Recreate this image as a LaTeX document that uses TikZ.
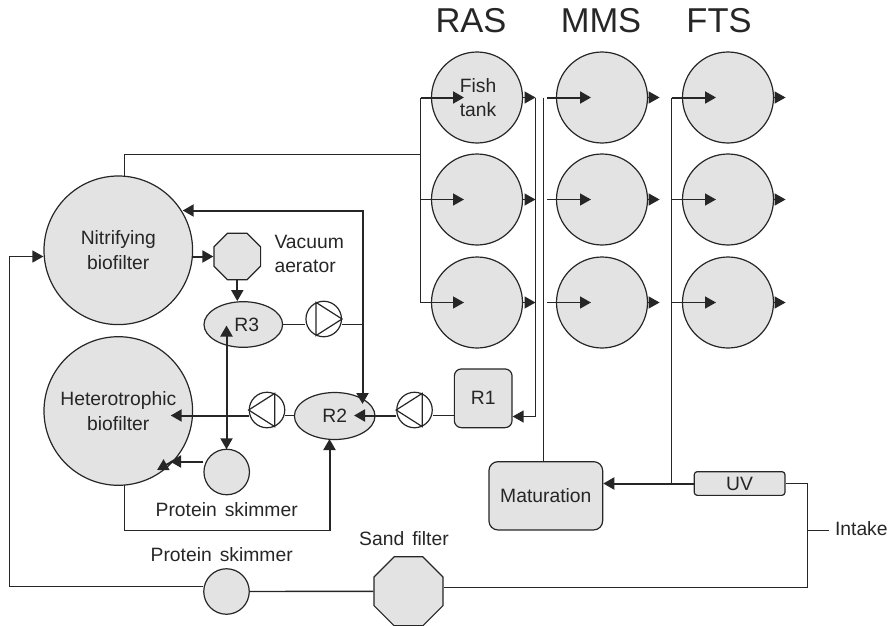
\documentclass[tikz,border=0pt]{standalone}
\usepackage{fontspec}
\setmainfont[WordSpace=1.5]{Liberation Sans}
\usetikzlibrary{arrows.meta, shapes.geometric}

\begin{document}
\begin{tikzpicture}[
  x=1pt, y=-1pt,
  >={Triangle[length=11pt, width=12pt]},
  lbl/.style={font=\fontsize{19.3}{24.5}\selectfont, text=black!85, align=left},
  heading/.style={font=\fontsize{34.5}{36}\selectfont, text=black!85},
  unit/.style={draw=black!85, fill=black!11, line width=1.2pt, inner sep=0pt},
  tank/.style={unit, circle, minimum size=91pt},
  filter/.style={unit, circle, minimum size=148.6pt, lbl, align=center},
  skim/.style={unit, circle, minimum size=45.5pt},
  pump/.style={draw=black!85, fill=white, line width=1.2pt, circle, inner sep=0pt, minimum size=35.5pt},
  mix/.style={unit, ellipse, lbl},
  octa/.style={unit, regular polygon, regular polygon sides=8},
  box/.style={unit, rectangle, rounded corners=#1, lbl},
  box/.default={7pt},
  pipe/.style={draw=black!85, line width=1.4pt},
  flow/.style={pipe, line width=2pt, ->},
]
\useasboundingbox (0,0) rectangle (891,626);

% === Headings ===
\node[heading] (ras) at (471, 21) {RAS};
\node[heading] (mms) at (601, 21) {MMS};
\node[heading] (fts) at (719, 21) {FTS};

% === Biofilters ===
\node[filter] (nitri) at (118.3, 250.3) {Nitrifying\\biofilter};
\node[filter] (hetero) at (118.3, 411) {Heterotrophic\\biofilter};

% === Tanks ===
\node[tank] (ras1) at (477, 97.5) {};
\node[tank] (ras2) at (477, 199.5) {};
\node[tank] (ras3) at (477, 302.5) {};
\node[tank] (mms1) at (602, 97.5) {};
\node[tank] (mms2) at (602, 199.5) {};
\node[tank] (mms3) at (602, 302.5) {};
\node[tank] (fts1) at (728, 97.5) {};
\node[tank] (fts2) at (728, 199.5) {};
\node[tank] (fts3) at (728, 302.5) {};
\node[lbl, align=center] (fish) at (478, 97.5) {Fish\\tank};

% === Treatment units ===
\node[octa, minimum size=50.5pt] (aerator) at (237.3, 256.5) {};
\node[mix, minimum width=78.6pt, minimum height=45.6pt] (r3) at (243.3, 324.5) {\hspace*{7pt}R3};
\node[mix, minimum width=80.6pt, minimum height=47pt] (r2) at (334.7, 416) {R2};
\node[box, minimum width=57.7pt, minimum height=58.7pt] (r1) at (483.2, 398.3) {R1};
\node[box=9pt, minimum width=113.7pt, minimum height=68.3pt] (matur) at (545.8, 495.8) {Maturation};
\node[box=3pt, minimum width=90.7pt, minimum height=23.7pt] (uv) at (739.6, 483.5) {UV};
\node[skim] (skimup) at (226.7, 472) {};
\node[skim] (skimlow) at (226.5, 591.5) {};
\node[octa, minimum size=74.7pt] (sand) at (408.5, 591.3) {};

% Pumps
\node[pump] (pumpa) at (323.7, 319) {};
\node[pump] (pumpb) at (267, 410) {};
\node[pump] (pumpc) at (414.5, 410) {};
\draw[pipe, line width=1.2pt] (pumpa.115) -- (pumpa.0) -- (pumpa.245) -- cycle;
\draw[pipe, line width=1.2pt] (pumpb.65) -- (pumpb.180) -- (pumpb.295) -- cycle;
\draw[pipe, line width=1.2pt] (pumpc.65) -- (pumpc.180) -- (pumpc.295) -- cycle;

% Labels
\node[lbl, anchor=west] (vaclbl) at (271, 254) {Vacuum\\aerator};
\node[lbl] (skimuplbl) at (226.7, 510) {Protein skimmer};
\node[lbl] (skimlowlbl) at (221.7, 555) {Protein skimmer};
\node[lbl] (sandlbl) at (404, 539) {Sand filter};
\node[lbl, anchor=west] (intake) at (831.5, 529) {Intake};

% === Free ends and junctions ===
\coordinate (feed) at (420.5, 154.5);
\coordinate (feedtop) at (420.5, 97.5);
\coordinate (feedmid) at (420.5, 199.5);
\coordinate (feedbot) at (420.5, 302.5);
\coordinate (rasend) at (535.5, 97.5);
\coordinate (mmsend) at (543.5, 97.5);
\coordinate (ftsend) at (671.5, 97.5);
\coordinate (ftsjoin) at (671.5, 483.5);
\coordinate (mmsa) at (547, 97.5);
\coordinate (mmsb) at (547, 199.5);
\coordinate (mmsc) at (547, 302.5);
\coordinate (ftsb) at (671.5, 199.5);
\coordinate (ftsc) at (671.5, 302.5);
\coordinate (intakejoin) at (807.5, 530.5);
\coordinate (airjoin) at (362.5, 324.5);

% === RAS feed and return ===
\draw[pipe] (124.5, 176.4) |- (feed);
\draw[pipe] (feedtop) -- (feedbot);
\draw[flow] (feedtop) -- (464, 97.5);
\draw[flow, line width=1.4pt] (feedmid) -- (464, 199.5);
\draw[flow, line width=1.4pt] (feedbot) -- (464, 302.5);
\draw[pipe] (rasend) -- (535.5, 416.5);
\draw[flow, line width=1.4pt] (535.5, 416.5) -- (r1.east |- 0, 416.5);

% Tank outlets
\draw[pipe, ->] (ras1.east) -- (rasend);
\draw[pipe, ->] (ras2.east) -- (535.5, 199.5);
\draw[pipe, ->] (ras3.east) -- (535.5, 302.5);
\draw[pipe, ->] (mms1.east) ++(-0.5, 0) -- ++(12, 0);
\draw[pipe, ->] (mms2.east) ++(-0.5, 0) -- ++(12, 0);
\draw[pipe, ->] (mms3.east) ++(-0.5, 0) -- ++(12, 0);
\draw[pipe, ->] (fts1.east) ++(-0.5, 0) -- ++(12, 0);
\draw[pipe, ->] (fts2.east) ++(-0.5, 0) -- ++(12, 0);
\draw[pipe, ->] (fts3.east) ++(-0.5, 0) -- ++(12, 0);

% === MMS and FTS feeds ===
\draw[pipe] (mmsend) -- (mmsend |- matur.north);
\draw[flow] (mmsa) -- (591, 97.5);
\draw[flow, line width=1.4pt] (mmsb) -- (591, 199.5);
\draw[flow, line width=1.4pt] (mmsc) -- (591, 302.5);
\draw[pipe] (ftsend) -- (ftsjoin);
\draw[flow] (ftsend) -- (716, 97.5);
\draw[flow, line width=1.4pt] (ftsb) -- (716, 199.5);
\draw[flow, line width=1.4pt] (ftsc) -- (716, 302.5);
\draw[flow] (uv.west) -- (matur.east |- uv.west);

% === Intake ===
\draw[pipe] (uv.east) -| (intakejoin) |- (sand.east |- 0, 587.5);
\draw[pipe] (intakejoin) -- (829, 530.5);
\draw[pipe] (sand.west) -- (skimlow.east);
\draw[pipe] (skimlow.west |- 0, 586.5) -- (9.5, 586.5) |- (nitri.west |- 0, 256.5);
\draw[flow, line width=1.4pt] (20, 256.5) -- (nitri.west |- 0, 256.5);

% === Biofilter loop ===
\draw[flow] (nitri.east |- aerator) -- (aerator.west);
\draw[flow] (aerator.south) -- (aerator.south |- r3.north);
\draw[pipe] (r3.east) -- (pumpa.west |- r3.east);
\draw[pipe] (pumpa.east |- r3.east) -- (airjoin);
\draw[flow] (362.5, 361) -- (362.5, 210.5) -- (182.7, 210.5);
\draw[flow] (362.5, 361) -- (362.5, 404);
\draw[flow, <->] (226.5, 325.5) -- (226.5, 449.3);
\draw[pipe] (r1.west |- 0, 415.5) -- (pumpc.east |- 0, 415.5);
\draw[flow] (pumpc.west |- 0, 415.5) -- (354, 415.5);
\draw[pipe] (r2.west |- 0, 415.5) -- (pumpb.east |- 0, 415.5);
\draw[flow] (pumpb.west |- 0, 415.5) -- (170.7, 415.5);
\draw[flow] (skimup.west |- 0, 461.5) -- (170, 461.5);
\draw[flow] (172, 461.7) -- (157, 470);
\draw[pipe] (124.5, 485) |- (329.5, 530.5);
\draw[flow] (329.5, 530.5) -- (329.5, 439);

\end{tikzpicture}
\end{document}
